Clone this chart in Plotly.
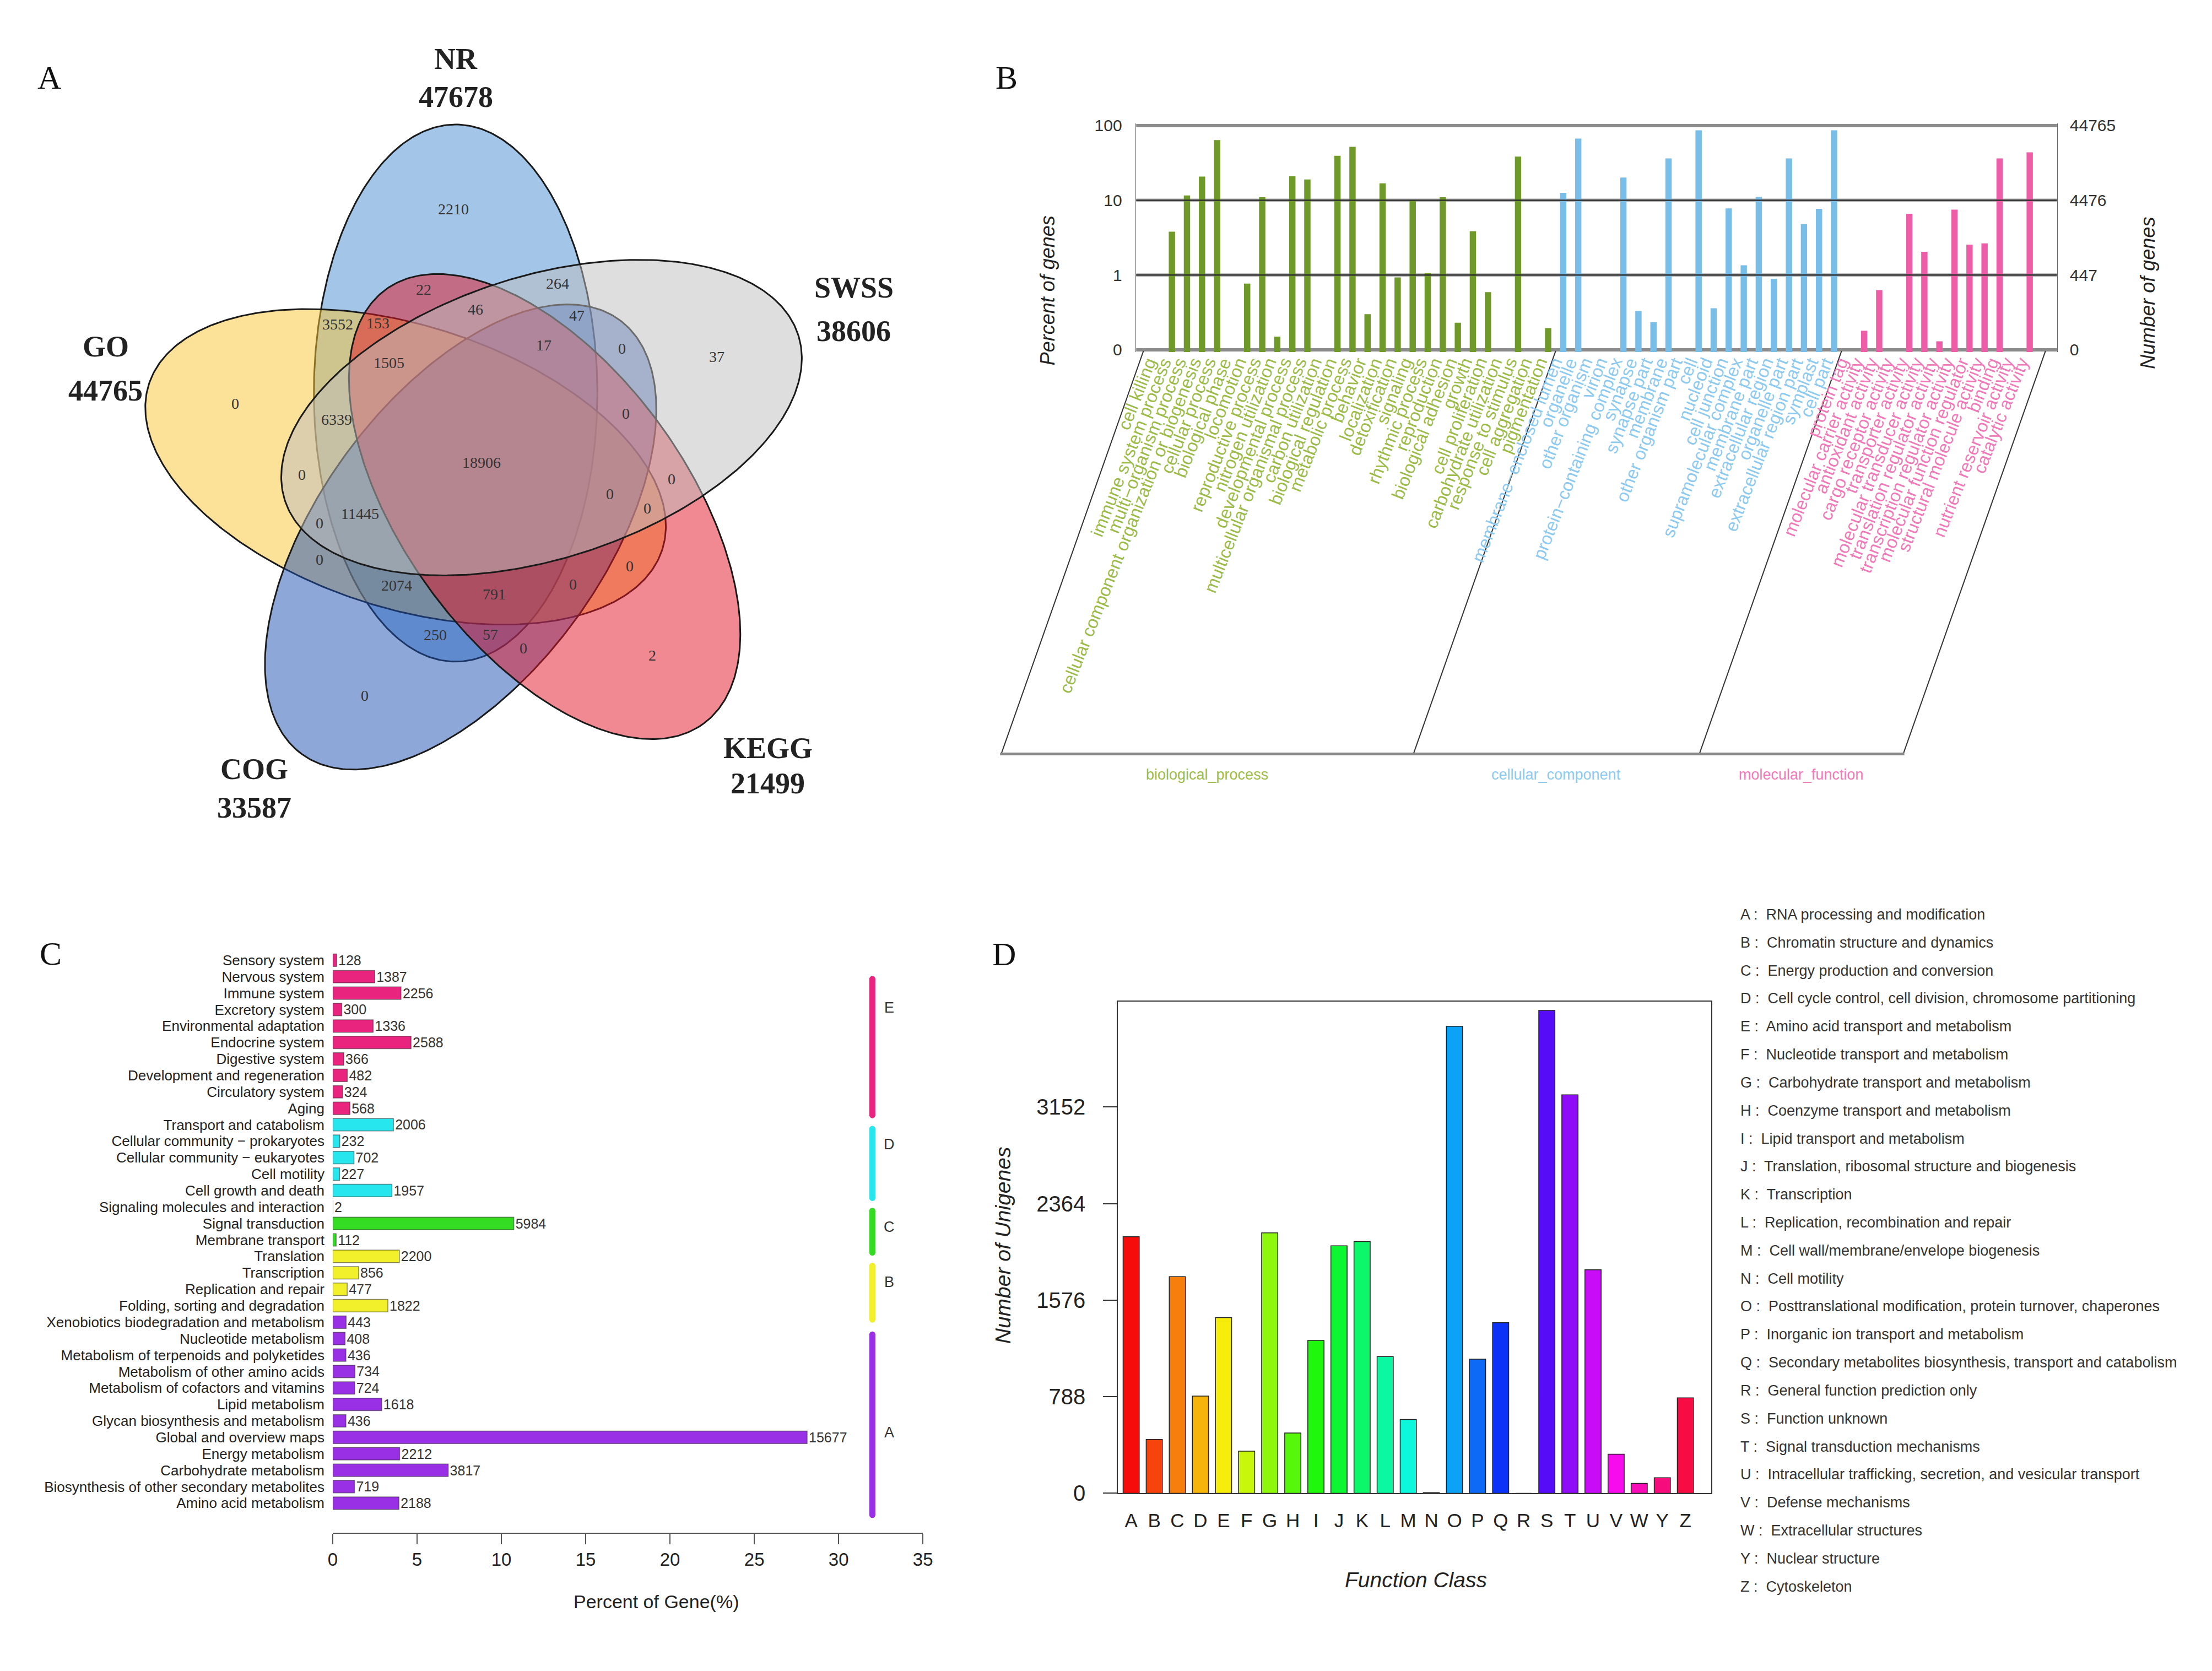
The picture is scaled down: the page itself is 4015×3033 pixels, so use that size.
import numpy as np
import colorsys
import plotly.graph_objects as go

W, H = 4015, 3033
def fx(x): return x / W
def fy(y): return 1 - y / H

SERIF = "Liberation Serif, Times New Roman, serif"
SANS = "Liberation Sans, Arial, sans-serif"
NARROW = "Liberation Sans Narrow, Liberation Sans, Arial, sans-serif"

# ======================= DATA =======================
# Panel A - Venn
venn_names = ["NR", "GO", "COG", "KEGG", "SWSS"]
venn_totals = [47678, 44765, 33587, 21499, 38606]
venn_region_counts = [2210, 22, 264, 46, 47, 153, 3552, 17, 0, 37, 1505, 0, 0, 6339,
                      18906, 0, 0, 0, 0, 11445, 0, 0, 0, 2074, 0, 791, 250, 57, 0, 2, 0]

# Panel B - GO classification (percent of genes)
bp_terms = ["cell killing", "immune system process", "multi\u2212organism process",
            "cellular component organization or biogenesis", "cellular process",
            "biological phase", "locomotion", "reproductive process", "nitrogen utilization",
            "developmental process", "multicellular organismal process", "carbon utilization",
            "biological regulation", "metabolic process", "behavior", "localization",
            "detoxification", "signaling", "rhythmic process", "reproduction",
            "biological adhesion", "growth", "cell proliferation", "carbohydrate utilization",
            "response to stimulus", "cell aggregation", "pigmentation"]
bp_values = [0, 3.8, 11.6, 20.8, 64, 0, 0.77, 11, 0.15, 21, 19, 0, 39.5, 52, 0.30, 16.9,
             0.93, 10, 1.06, 11, 0.23, 3.85, 0.59, 0, 38.5, 0, 0.195]
cc_terms = ["membrane\u2212enclosed lumen", "organelle", "other organism", "virion",
            "protein\u2212containing complex", "synapse", "synapse part", "membrane",
            "other organism part", "cell", "nucleoid", "cell junction",
            "supramolecular complex", "membrane part", "extracellular region",
            "organelle part", "extracellular region part", "symplast", "cell part"]
cc_values = [12.6, 67, 0, 0, 20.2, 0.33, 0.235, 36.4, 0, 86.5, 0.36, 7.8, 1.35, 11.1,
             0.89, 36.4, 4.8, 7.7, 86.5]
mf_terms = ["protein tag", "molecular carrier activity", "antioxidant activity",
            "cargo receptor activity", "transporter activity", "molecular transducer activity",
            "translation regulator activity", "transcription regulator activity",
            "molecular function regulator", "structural molecule activity", "binding",
            "nutrient reservoir activity", "catalytic activity"]
mf_values = [0, 0.18, 0.63, 0, 6.6, 2.05, 0.13, 7.5, 2.56, 2.66, 36.4, 0, 43.8]
go_group_names = ["biological_process", "cellular_component", "molecular_function"]
go_tick_values = [0.1, 1, 10, 100]
go_left_ticks = ["0", "1", "10", "100"]
go_right_ticks = ["0", "447", "4476", "44765"]

# Panel C - KEGG
kegg_terms = ["Sensory system", "Nervous system", "Immune system", "Excretory system",
              "Environmental adaptation", "Endocrine system", "Digestive system",
              "Development and regeneration", "Circulatory system", "Aging",
              "Transport and catabolism", "Cellular community \u2212 prokaryotes",
              "Cellular community \u2212 eukaryotes", "Cell motility", "Cell growth and death",
              "Signaling molecules and interaction", "Signal transduction", "Membrane transport",
              "Translation", "Transcription", "Replication and repair",
              "Folding, sorting and degradation", "Xenobiotics biodegradation and metabolism",
              "Nucleotide metabolism", "Metabolism of terpenoids and polyketides",
              "Metabolism of other amino acids", "Metabolism of cofactors and vitamins",
              "Lipid metabolism", "Glycan biosynthesis and metabolism", "Global and overview maps",
              "Energy metabolism", "Carbohydrate metabolism",
              "Biosynthesis of other secondary metabolites", "Amino acid metabolism"]
kegg_counts = [128, 1387, 2256, 300, 1336, 2588, 366, 482, 324, 568,
               2006, 232, 702, 227, 1957,
               2, 5984, 112,
               2200, 856, 477, 1822,
               443, 408, 436, 734, 724, 1618, 436, 15677, 2212, 3817, 719, 2188]
kegg_class = ["E"] * 10 + ["D"] * 5 + ["C"] * 3 + ["B"] * 4 + ["A"] * 12
kegg_class_order = ["E", "D", "C", "B", "A"]
kegg_xticks = [0, 5, 10, 15, 20, 25, 30, 35]

# Panel D - COG
cog_classes = list("ABCDEFGHIJKLMNOPQRSTUVWYZ")
cog_counts = [2093, 439, 1767, 793, 1434, 344, 2125, 492, 1247, 2019, 2054, 1116, 602, 5,
              3811, 1094, 1392, 0, 3940, 3251, 1824, 319, 81, 127, 779]
cog_desc = ["RNA processing and modification", "Chromatin structure and dynamics",
            "Energy production and conversion",
            "Cell cycle control, cell division, chromosome partitioning",
            "Amino acid transport and metabolism", "Nucleotide transport and metabolism",
            "Carbohydrate transport and metabolism", "Coenzyme transport and metabolism",
            "Lipid transport and metabolism", "Translation, ribosomal structure and biogenesis",
            "Transcription", "Replication, recombination and repair",
            "Cell wall/membrane/envelope biogenesis", "Cell motility",
            "Posttranslational modification, protein turnover, chaperones",
            "Inorganic ion transport and metabolism",
            "Secondary metabolites biosynthesis, transport and catabolism",
            "General function prediction only", "Function unknown",
            "Signal transduction mechanisms",
            "Intracellular trafficking, secretion, and vesicular transport",
            "Defense mechanisms", "Extracellular structures", "Nuclear structure", "Cytoskeleton"]
cog_yticks = [0, 788, 1576, 2364, 3152]

# ======================= FIGURE =======================
fig = go.Figure()
ann = []
shapes = []

def paper_text(txt, x, y, size, family=SANS, color="#222", angle=0):
    ann.append(dict(text=txt, x=fx(x), y=fy(y), xref="paper", yref="paper", showarrow=False,
                    textangle=angle, xanchor="center", yanchor="middle",
                    font=dict(family=family, size=size, color=color)))

def letter(txt, x, y):
    paper_text(txt, x, y, 60, family=SERIF, color="#111")

# ---------- Panel A: Venn ----------
venn_center = (871.0, 840.0)
venn_a, venn_b = 493.0, 259.0
venn_along, venn_side = 130.6, 47.5
venn_angles = {"NR": 90, "GO": 162, "COG": 234, "KEGG": 306, "SWSS": 18}
venn_fill = {"NR": "rgba(70,140,210,0.5)", "GO": "rgba(250,195,50,0.5)",
             "COG": "rgba(30,80,180,0.5)", "KEGG": "rgba(225,20,35,0.5)",
             "SWSS": "rgba(190,190,190,0.5)"}
venn_draw_order = ["NR", "GO", "COG", "KEGG", "SWSS"]
venn_name_pos = {"NR": (824, 96, 166), "GO": (184, 624, 705), "COG": (456, 1400, 1470),
                 "KEGG": (1394, 1361, 1426), "SWSS": (1551, 516, 596)}
venn_region_pos = [(820, 372), (765, 519), (1010, 508), (860, 556), (1045, 567), (682, 581),
                   (608, 583), (985, 621), (1128, 628), (1301, 643), (702, 654), (421, 729),
                   (1135, 747), (606, 758), (871, 837), (543, 859), (1218, 867), (1105, 895),
                   (1174, 921), (649, 931), (575, 948), (575, 1015), (1142, 1027), (716, 1062),
                   (1038, 1060), (894, 1079), (786, 1153), (887, 1152), (947, 1178),
                   (1183, 1191), (657, 1265)]

t = np.linspace(0, 2 * np.pi, 400)
for name in venn_draw_order:
    th = np.radians(venn_angles[name])
    u = np.array([np.cos(th), np.sin(th)])
    v = np.array([-np.sin(th), np.cos(th)])
    c = venn_along * u + venn_side * v
    X = c[0] + venn_a * np.cos(t) * u[0] + venn_b * np.sin(t) * v[0]
    Y = c[1] + venn_a * np.cos(t) * u[1] + venn_b * np.sin(t) * v[1]
    fig.add_trace(go.Scatter(x=venn_center[0] + X, y=venn_center[1] - Y, mode="lines",
                             fill="toself", fillcolor=venn_fill[name],
                             line=dict(color="#1a1a1a", width=3), hoverinfo="skip",
                             showlegend=False, xaxis="x", yaxis="y"))

for cnt, (x, y) in zip(venn_region_counts, venn_region_pos):
    ann.append(dict(text=str(cnt), x=x, y=y, xref="x", yref="y", showarrow=False,
                    font=dict(family=SERIF, size=28, color="#333")))
for name, tot in zip(venn_names, venn_totals):
    x, y1, y2 = venn_name_pos[name]
    ann.append(dict(text="<b>%s</b>" % name, x=x, y=y1, xref="x", yref="y", showarrow=False,
                    font=dict(family=SERIF, size=54, color="#222")))
    ann.append(dict(text="<b>%d</b>" % tot, x=x, y=y2, xref="x", yref="y", showarrow=False,
                    font=dict(family=SERIF, size=54, color="#222")))
letter("A", 81, 130)

# ---------- Panel B: GO ----------
b_slot0_px, b_slot_w = 2105.0, 27.5
def bslot(s): return b_slot0_px + b_slot_w * s
b_left_px, b_right_px = 2067.0, 3750.0
b_decade = 137.2
b_zero_px = 630.0  # y of the "0" (0.1) line
b_range = [-1.03, 2.03]
b_top_px = b_zero_px - (b_range[1] + 1) * b_decade
b_bot_px = b_zero_px - (b_range[0] + 1) * b_decade
bx0 = (b_left_px - b_slot0_px) / b_slot_w
bx1 = (b_right_px - b_slot0_px) / b_slot_w

go_sets = [(bp_terms, bp_values, "#6f9a2a", "#9cbb48"),
           (cc_terms, cc_values, "#79bde9", "#8ccaf0"),
           (mf_terms, mf_values, "#ee5ea8", "#f079b9")]

# horizontal reference lines
for val in go_tick_values:
    edge = val in (0.1, 100)
    shapes.append(dict(type="line", xref="x2", yref="y2", x0=bx0, x1=bx1, y0=val, y1=val,
                       line=dict(color="#8c8c8c" if edge else "#b0b0b0", width=6), layer="below"))
    if not edge:
        shapes.append(dict(type="line", xref="x2", yref="y2", x0=bx0, x1=bx1, y0=val, y1=val,
                           line=dict(color="#2e2e2e", width=2.5), layer="above"))

slot = 0
bounds = [-0.89]
for terms, vals, bar_col, lab_col in go_sets:
    xs = list(range(slot, slot + len(terms)))
    ys = [vv if vv > 0 else None for vv in vals]
    fig.add_trace(go.Bar(x=xs, y=ys, xaxis="x2", yaxis="y2",
                         marker=dict(color=bar_col, line=dict(width=0)),
                         width=0.42, showlegend=False, hoverinfo="skip"))
    for term, xx in zip(terms, xs):
        ann.append(dict(text=term, x=xx + 0.3, y=fy(637), xref="x2", yref="paper", showarrow=False,
                        textangle=-68.5, xanchor="right", yanchor="top",
                        font=dict(family=SANS, size=32, color=lab_col)))
    slot += len(terms)
    bounds.append(slot - 0.5)
bounds[-1] = slot - 1 + 1.05

# invisible trace so that the right-hand axis is drawn
fig.add_trace(go.Scatter(x=[0], y=[1], xaxis="x2", yaxis="y5", mode="markers",
                         marker=dict(opacity=0), showlegend=False, hoverinfo="skip"))

# slanted frame under GO chart
frame_top, frame_bot, frame_shear = 632.0, 1372.0, 260.0
for bnd in bounds:
    xt = bslot(bnd)
    shapes.append(dict(type="line", xref="paper", yref="paper", x0=fx(xt), y0=fy(frame_top),
                       x1=fx(xt - frame_shear), y1=fy(frame_bot), line=dict(color="#333", width=2)))
shapes.append(dict(type="line", xref="paper", yref="paper", x0=fx(bslot(bounds[0]) - frame_shear - 2),
                   y0=fy(frame_bot), x1=fx(bslot(bounds[-1]) - frame_shear + 2), y1=fy(frame_bot),
                   line=dict(color="#8a8a8a", width=5)))
for i, (gname, (_, _, _, lab_col)) in enumerate(zip(go_group_names, go_sets)):
    xm = (bslot(bounds[i]) + bslot(bounds[i + 1])) / 2 - frame_shear
    paper_text(gname, xm, 1410, 27, family=NARROW, color=lab_col)
paper_text("<i>Percent of genes</i>", 1905, 521, 36, angle=-90)
paper_text("<i>Number of genes</i>", 3915, 526, 36, angle=-90)
letter("B", 1830, 130)

# ---------- Panel C: KEGG ----------
kegg_colors = {"E": "#e8247f", "D": "#27e6ee", "C": "#35dc24", "B": "#f2f02a", "A": "#9a30e6"}
kegg_total = sum(kegg_counts)
kegg_pct = [c / kegg_total * 100 for c in kegg_counts]
rows = list(range(len(kegg_terms)))
fig.add_trace(go.Bar(x=kegg_pct, y=rows, orientation="h", xaxis="x3", yaxis="y3",
                     marker=dict(color=[kegg_colors[g] for g in kegg_class],
                                 line=dict(color="rgba(40,40,40,0.55)", width=1.5)),
                     width=0.76, text=[str(c) for c in kegg_counts], textposition="outside",
                     textangle=0, constraintext="none", cliponaxis=False,
                     textfont=dict(family=SANS, size=25, color="#333"),
                     showlegend=False, hoverinfo="skip"))
kegg_span = {"E": (0.96, 9.6), "D": (10.07, 14.63), "C": (15.05, 17.95), "B": (18.39, 22.03),
             "A": (22.57, 33.9)}
kegg_letter_row = {"E": 2.88, "D": 11.2, "C": 16.2, "B": 19.55, "A": 28.7}
for g in kegg_class_order:
    s0, s1 = kegg_span[g]
    fig.add_trace(go.Scatter(x=[32, 32], y=[s0 + 0.18, s1 - 0.18], xaxis="x3", yaxis="y3",
                             mode="lines+markers", line=dict(color=kegg_colors[g], width=11),
                             marker=dict(color=kegg_colors[g], size=11), cliponaxis=False,
                             showlegend=False, hoverinfo="skip"))
    ann.append(dict(text=g, x=33.0, y=kegg_letter_row[g], xref="x3", yref="y3", showarrow=False,
                    font=dict(family=SANS, size=27, color="#333")))
paper_text("Percent of Gene(%)", 1190, 2928, 34)
letter("C", 84, 1738)

# ---------- Panel D: COG ----------
cog_colors = []
for i in range(len(cog_classes)):
    r, g_, b = colorsys.hsv_to_rgb(i / 25.0, 0.95, 0.97)
    cog_colors.append("rgb(%d,%d,%d)" % (r * 255, g_ * 255, b * 255))
cog_x = list(range(len(cog_classes)))
fig.add_trace(go.Bar(x=cog_x, y=cog_counts, xaxis="x4", yaxis="y4",
                     marker=dict(color=cog_colors, line=dict(color="#222", width=1.5)),
                     width=0.70, showlegend=False, hoverinfo="skip"))
paper_text("<i>Number of Unigenes</i>", 1824, 2274, 39, angle=-90)
paper_text("<i>Function Class</i>", 2578, 2888, 39)
for i, (cl, desc) in enumerate(zip(cog_classes, cog_desc)):
    ann.append(dict(text="%s :  %s" % (cl, desc), x=fx(3169), y=fy(1666.6 + i * 51.4), xref="paper",
                    yref="paper", showarrow=False, xanchor="left", yanchor="middle",
                    font=dict(family=SANS, size=27, color="#333")))
letter("D", 1826, 1740)

# ======================= LAYOUT =======================
c_row0_px, c_row_h = 1750.5, 30.2
c_top_px, c_axis_px = 1720.0, 2801.0
d_left, d_right, d_top, d_bot = 2034.0, 3118.0, 1826.0, 2729.0
d_slot0, d_slot_w = 2058.0, 42.2

fig.update_layout(
    width=W, height=H, margin=dict(l=0, r=0, t=0, b=0), autosize=False,
    paper_bgcolor="white", plot_bgcolor="rgba(0,0,0,0)", showlegend=False, barmode="overlay",
    font=dict(family=SANS, color="#222"),
    # Panel A
    xaxis=dict(domain=[0, fx(1700)], range=[0, 1700], visible=False, fixedrange=True),
    yaxis=dict(domain=[fy(1550), 1], range=[1550, 0], visible=False, fixedrange=True),
    # Panel B
    xaxis2=dict(domain=[fx(b_left_px), fx(b_right_px)], range=[bx0, bx1], visible=False,
                anchor="y2"),
    yaxis2=dict(domain=[fy(b_bot_px), fy(b_top_px)], type="log", range=b_range, anchor="x2",
                tickvals=go_tick_values, ticktext=go_left_ticks, showgrid=False, zeroline=False,
                showline=True, mirror=True, linecolor="#666", linewidth=1.5, ticks="",
                ticklabelstandoff=18, tickfont=dict(family=NARROW, size=30, color="#333")),
    yaxis5=dict(domain=[fy(b_bot_px), fy(b_top_px)], type="log", range=b_range, anchor="x2",
                overlaying="y2", side="right", tickvals=go_tick_values, ticktext=go_right_ticks,
                showgrid=False, zeroline=False, showline=False, ticks="", ticklabelstandoff=22,
                tickfont=dict(family=NARROW, size=30, color="#333")),
    # Panel C
    xaxis3=dict(domain=[fx(599), fx(1677.5)], range=[0, 35], anchor="y3", tickvals=kegg_xticks,
                showline=True, linecolor="#555", linewidth=2, ticks="outside", ticklen=19,
                tickwidth=2, tickcolor="#555", showgrid=False, zeroline=False,
                tickfont=dict(family=SANS, size=33, color="#222")),
    yaxis3=dict(domain=[fy(c_axis_px), fy(c_top_px)],
                range=[(c_axis_px - c_row0_px) / c_row_h, (c_top_px - c_row0_px) / c_row_h],
                anchor="x3", tickvals=rows, ticktext=kegg_terms, ticks="", showline=False,
                showgrid=False, zeroline=False, ticklabelstandoff=14,
                tickfont=dict(family=SANS, size=26, color="#222")),
    # Panel D
    xaxis4=dict(domain=[fx(d_left), fx(d_right)],
                range=[(d_left - d_slot0) / d_slot_w, (d_right - d_slot0) / d_slot_w],
                anchor="y4", tickvals=cog_x, ticktext=cog_classes, ticks="", showgrid=False,
                zeroline=False, showline=True, mirror=True, linecolor="#333", linewidth=2,
                ticklabelstandoff=18, tickfont=dict(family=SANS, size=35, color="#222")),
    yaxis4=dict(domain=[fy(d_bot), fy(d_top)], range=[0, 4014], anchor="x4", tickvals=cog_yticks,
                ticks="outside", ticklen=25, tickwidth=2, tickcolor="#333", showgrid=False,
                zeroline=False, showline=True, mirror=True, linecolor="#333", linewidth=2,
                ticklabelstandoff=24, tickfont=dict(family=SANS, size=40, color="#222")),
    annotations=ann, shapes=shapes,
)

fig.write_html("out.html", config={"displayModeBar": False, "staticPlot": True},
               post_script="document.body.style.margin='0px';")
